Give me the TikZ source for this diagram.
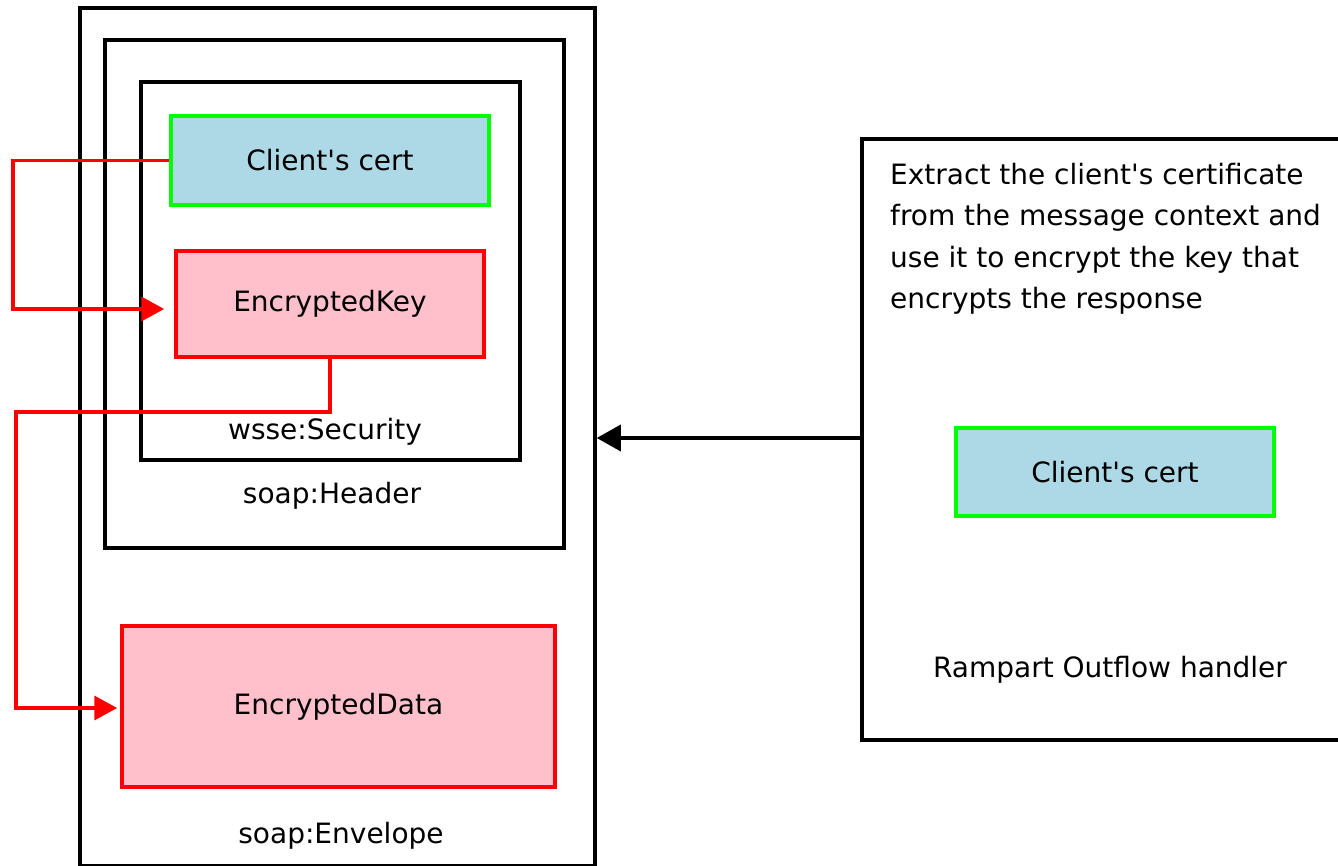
\documentclass[tikz,border=0pt]{standalone}
\usepackage{fontspec}
\setmainfont{DejaVu Sans}
\usetikzlibrary{arrows.meta}
\definecolor{certfill}{HTML}{ADD8E6}
\definecolor{certline}{HTML}{00FF00}
\definecolor{encfill}{HTML}{FFC0CB}
\definecolor{encline}{HTML}{FF0000}
\newcommand{\q}{\textquotesingle}
\begin{document}
\begin{tikzpicture}[x=1pt,y=-1pt,
  font=\fontsize{28}{41.5}\selectfont,
  frame/.style={draw=black,line width=3.5pt,rectangle,inner sep=0pt},
  certbox/.style={draw=certline,fill=certfill,line width=3.5pt,rectangle,inner sep=0pt},
  encbox/.style={draw=encline,fill=encfill,line width=3.5pt,rectangle,inner sep=0pt},
  label/.style={inner sep=0pt},
  redlink/.style={draw=encline,line width=3.5pt,-{Triangle[length=23pt,width=24pt]}},
  blacklink/.style={draw=black,line width=3.5pt,-{Triangle[length=24pt,width=26pt]}}]
\useasboundingbox (0,0) rectangle (1338,866);

% nested message containers
\node[frame,minimum width=515pt,minimum height=858pt] (envelope) at (337.5,437) {};
\node[frame,minimum width=459pt,minimum height=508pt] (header) at (334.5,294) {};
\node[frame,minimum width=379pt,minimum height=378pt] (security) at (330.5,271) {};

% header and body elements
\node[certbox,minimum width=318pt,minimum height=89pt] (cert) at (330,160.5) {Client\q s cert};
\node[encbox,minimum width=308pt,minimum height=106pt] (ekey) at (330,304) {EncryptedKey};
\node[encbox,minimum width=433pt,minimum height=161pt] (edata) at (338.5,706.5) {EncryptedData};

\node[label] (seclabel) at (325,432) {wsse:Security};
\node[label] (hdrlabel) at (332,496) {soap:Header};
\node[label] (envlabel) at (341,836) {soap:Envelope};

% outflow handler
\node[frame,minimum width=483pt,minimum height=601pt] (handler) at (1103.5,439.5) {};
\node[label,anchor=north west,align=left] (desc) at (890,163)
  {Extract the client\q s certificate\\from the message context and\\use it to encrypt the key that\\encrypts the response};
\node[certbox,minimum width=318pt,minimum height=88pt] (hcert) at (1115,472) {Client\q s cert};
\node[label] (hlabel) at (1110,670) {Rampart Outflow handler};

% links
\coordinate (k1) at (13,160.5);
\coordinate (k2) at (16,412);
\draw[redlink,shorten >=10pt] (cert.west) -- (k1) |- ([yshift=-5pt]ekey.west);
\draw[redlink,shorten >=3pt] (ekey.south) |- (k2) |- ([yshift=-1.5pt]edata.west);
\draw[blacklink] (handler.west |- 0,438) -- (envelope.east |- 0,438);
\end{tikzpicture}
\end{document}
